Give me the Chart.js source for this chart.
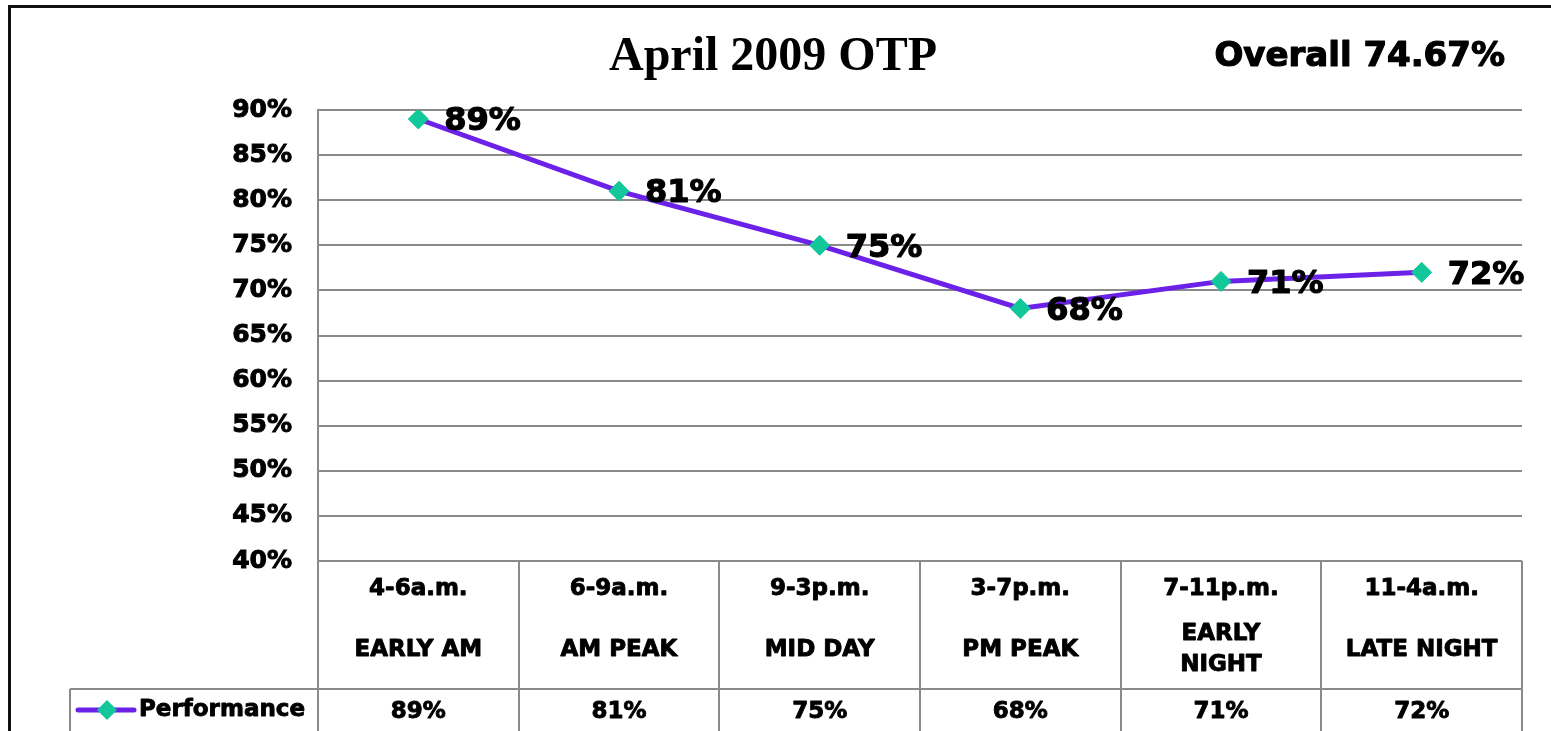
<!DOCTYPE html>
<html>
<head>
<meta charset="utf-8">
<script src="https://cdn.jsdelivr.net/npm/chart.js@4/dist/chart.umd.min.js"></script>
<style>
  html, body { margin: 0; padding: 0; background: #fff; overflow: hidden; }
  #wrap { position: relative; width: 1551px; height: 731px; }
  #frame { position: absolute; left: 8px; top: 5px; width: 1700px; height: 900px; border: 3px solid #111; }
  canvas { position: absolute; left: 0; top: 0; }
</style>
</head>
<body>
<div id="wrap">
  <div id="frame"></div>
  <canvas id="otp" width="1551" height="731"></canvas>
</div>
<script>
// ─── Data ────────────────────────────────────────────────
const TITLE = "April 2009 OTP";
const OVERALL = "Overall 74.67%";
const timeRanges = ["4-6a.m.", "6-9a.m.", "9-3p.m.", "3-7p.m.", "7-11p.m.", "11-4a.m."];
const periodNames = [["EARLY AM"], ["AM PEAK"], ["MID DAY"], ["PM PEAK"], ["EARLY", "NIGHT"], ["LATE NIGHT"]];
const performance = [89, 81, 75, 68, 71, 72];
const SERIES_NAME = "Performance";
const Y_MIN = 40, Y_MAX = 90, Y_STEP = 5;

const LINE_COLOR = "#6b21e8";
const MARKER_COLOR = "#12c79a";
const GRID_COLOR = "#8a8a8a";
const SANS = "'DejaVu Sans', Verdana, sans-serif";

// heavy text: fill plus a thin stroke so it reads like Tahoma Bold
function heavyText(ctx, txt, x, y, w) {
  ctx.lineWidth = w;
  ctx.strokeStyle = ctx.fillStyle;
  ctx.lineJoin = "round";
  ctx.strokeText(txt, x, y);
  ctx.fillText(txt, x, y);
}

// ─── Title / overall text ────────────────────────────────
const headerPlugin = {
  id: "header",
  afterDraw(chart) {
    const { ctx } = chart;
    ctx.save();
    ctx.fillStyle = "#000";
    ctx.textBaseline = "middle";
    ctx.font = "bold 48px 'Liberation Serif', 'Times New Roman', serif";
    ctx.textAlign = "center";
    ctx.fillText(TITLE, 773, 58);
    ctx.font = "bold 34px " + SANS;
    ctx.textAlign = "right";
    heavyText(ctx, OVERALL, 1505, 57, 1.2);
    ctx.restore();
  }
};

// ─── Point value labels ──────────────────────────────────
const valueLabels = {
  id: "valueLabels",
  afterDatasetsDraw(chart) {
    const { ctx } = chart;
    const meta = chart.getDatasetMeta(0);
    ctx.save();
    ctx.fillStyle = "#000";
    ctx.font = "bold 32px " + SANS;
    ctx.textAlign = "left";
    ctx.textBaseline = "middle";
    meta.data.forEach((pt, i) => {
      heavyText(ctx, performance[i] + "%", pt.x + 26, pt.y + 3, 1.2);
    });
    ctx.restore();
  }
};

// ─── Data table under the plot ───────────────────────────
const dataTable = {
  id: "dataTable",
  afterDraw(chart) {
    const { ctx, chartArea: { left, right, bottom }, scales: { x } } = chart;
    const n = timeRanges.length;
    const colW = (right - left) / n;
    const rowY = bottom + 128;
    const endY = chart.height + 2;
    const legendLeft = 70;

    ctx.save();
    ctx.strokeStyle = GRID_COLOR;
    ctx.lineWidth = 2;
    ctx.beginPath();
    ctx.moveTo(left, bottom); ctx.lineTo(right, bottom);
    ctx.moveTo(legendLeft, rowY); ctx.lineTo(right, rowY);
    ctx.moveTo(legendLeft, rowY); ctx.lineTo(legendLeft, endY);
    for (let i = 0; i <= n; i++) {
      const lx = Math.round(left + i * colW);
      ctx.moveTo(lx, bottom); ctx.lineTo(lx, endY);
    }
    ctx.stroke();

    ctx.fillStyle = "#000";
    ctx.textAlign = "center";
    ctx.textBaseline = "middle";
    ctx.font = "bold 23px " + SANS;
    timeRanges.forEach((t, i) => {
      const cx = x.getPixelForValue(i);
      heavyText(ctx, t, cx, bottom + 28, 0.9);
      const lines = periodNames[i];
      const lh = 31;
      const top = bottom + 89 - (lines.length - 1) * lh / 2;
      lines.forEach((ln, j) => heavyText(ctx, ln, cx, top + j * lh, 0.9));
      heavyText(ctx, performance[i] + "%", cx, rowY + 23, 0.9);
    });

    // legend key
    ctx.strokeStyle = LINE_COLOR;
    ctx.lineWidth = 5;
    ctx.lineCap = "round";
    ctx.beginPath();
    ctx.moveTo(78, rowY + 21); ctx.lineTo(134, rowY + 21);
    ctx.stroke();
    ctx.fillStyle = MARKER_COLOR;
    ctx.beginPath();
    const kx = 107, ky = rowY + 21, kr = 10;
    ctx.moveTo(kx, ky - kr); ctx.lineTo(kx + kr, ky); ctx.lineTo(kx, ky + kr); ctx.lineTo(kx - kr, ky);
    ctx.closePath(); ctx.fill();
    ctx.fillStyle = "#000";
    ctx.textAlign = "left";
    heavyText(ctx, SERIES_NAME, 139, rowY + 21, 0.9);
    ctx.restore();
  }
};

new Chart(document.getElementById("otp"), {
  type: "line",
  data: {
    labels: timeRanges,
    datasets: [{
      label: SERIES_NAME,
      data: performance,
      borderColor: LINE_COLOR,
      borderWidth: 5,
      tension: 0,
      pointStyle: "rectRot",
      pointRadius: 10,
      pointHoverRadius: 10,
      pointBackgroundColor: MARKER_COLOR,
      pointBorderColor: MARKER_COLOR,
      pointBorderWidth: 1,
    }]
  },
  options: {
    responsive: false,
    animation: false,
    devicePixelRatio: 1,
    layout: { padding: { left: 0, right: 29, top: 110, bottom: 170 } },
    plugins: {
      legend: { display: false },
      title: { display: false },
      tooltip: { enabled: false },
    },
    scales: {
      x: { display: false, offset: true },
      y: {
        min: Y_MIN,
        max: Y_MAX,
        afterFit: (s) => { s.width = 318; },
        border: { display: true, color: GRID_COLOR, width: 2 },
        grid: { color: GRID_COLOR, lineWidth: 2, drawTicks: false },
        ticks: {
          stepSize: Y_STEP,
          padding: 26,
          color: "#000",
          textStrokeColor: "#000",
          textStrokeWidth: 1,
          font: { family: SANS, size: 25, weight: "bold" },
          callback: (v) => v + "%",
        }
      }
    }
  },
  plugins: [headerPlugin, valueLabels, dataTable]
});
</script>
</body>
</html>
